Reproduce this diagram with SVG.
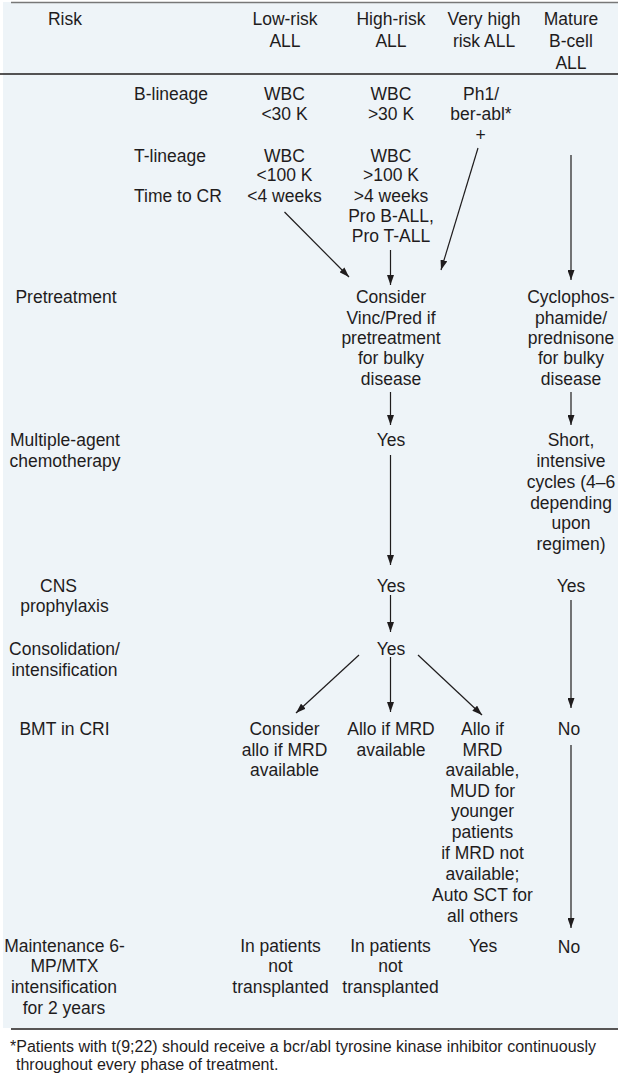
<svg xmlns="http://www.w3.org/2000/svg" width="620" height="1075" viewBox="0 0 620 1075">
<style>
text{font-family:"Liberation Sans",Arial,Helvetica,sans-serif;font-size:17.5px;fill:#1f1c1d}
.c{text-anchor:middle}
.s{text-anchor:start}
.f{font-size:16px;text-anchor:start}
.ln{stroke:#1f1c1d;stroke-width:1.2;fill:none}
</style>
<defs>
<marker id="ah" viewBox="0 0 10 7" refX="10" refY="3.5" markerWidth="10" markerHeight="7" markerUnits="userSpaceOnUse" orient="auto">
<path d="M0,0 L10,3.5 L0,7 Z" fill="#1f1c1d"/>
</marker>
</defs>
<rect x="0" y="0" width="620" height="1075" fill="#ffffff"/>
<rect x="3" y="2" width="615" height="1026" fill="#eef4f8"/>
<line x1="11" y1="2.5" x2="618" y2="2.5" stroke="#777777" stroke-width="1.6"/>
<line x1="0" y1="74" x2="618" y2="74" stroke="#1f1c1d" stroke-width="1.5"/>
<line x1="11" y1="1029" x2="618" y2="1029" stroke="#1f1c1d" stroke-width="1.5"/>

<g id="header">
<text class="c" x="65" y="24.5">Risk</text>
<text class="c" x="285" y="24.5">Low-risk</text>
<text class="c" x="285" y="46.5">ALL</text>
<text class="c" x="391" y="24.5">High-risk</text>
<text class="c" x="391" y="46.5">ALL</text>
<text class="c" x="484" y="24.5">Very high</text>
<text class="c" x="484" y="46.5">risk ALL</text>
<text class="c" x="571" y="24.5">Mature</text>
<text class="c" x="571" y="46.5">B-cell</text>
<text class="c" x="571" y="68.5">ALL</text>
</g>

<g id="row-labels">
<text class="s" x="134" y="99.5">B-lineage</text>
<text class="s" x="134" y="161.5">T-lineage</text>
<text class="s" x="134" y="201.5">Time to CR</text>
<text class="c" x="66" y="303">Pretreatment</text>
<text class="c" x="65" y="446">Multiple-agent</text>
<text class="c" x="65" y="467">chemotherapy</text>
<text class="c" x="58.5" y="591.5">CNS</text>
<text class="c" x="64.5" y="612">prophylaxis</text>
<text class="c" x="64.5" y="655">Consolidation/</text>
<text class="c" x="64.5" y="675.5">intensification</text>
<text class="c" x="64.5" y="735">BMT in CRI</text>
<text class="c" x="64.5" y="951.5">Maintenance 6-</text>
<text class="c" x="64.5" y="972">MP/MTX</text>
<text class="c" x="64" y="993">intensification</text>
<text class="c" x="64" y="1013.5">for 2 years</text>
</g>

<g id="low-risk-criteria">
<text class="c" x="284.5" y="99.5">WBC</text>
<text class="c" x="284.5" y="120">&lt;30 K</text>
<text class="c" x="284.5" y="161.5">WBC</text>
<text class="c" x="284.5" y="181">&lt;100 K</text>
<text class="c" x="284.5" y="201.5">&lt;4 weeks</text>
</g>
<g id="high-risk-criteria">
<text class="c" x="391" y="99.5">WBC</text>
<text class="c" x="391" y="120">&gt;30 K</text>
<text class="c" x="391" y="161.5">WBC</text>
<text class="c" x="391" y="181">&gt;100 K</text>
<text class="c" x="391" y="201.5">&gt;4 weeks</text>
<text class="c" x="391" y="222">Pro B-ALL,</text>
<text class="c" x="391" y="242">Pro T-ALL</text>
</g>
<g id="very-high-risk-criteria">
<text class="c" x="481" y="99.5">Ph1/</text>
<text class="c" x="481" y="120">ber-abl*</text>
<text class="c" x="480.5" y="141">+</text>
</g>

<g id="pretreatment-main">
<text class="c" x="391" y="303">Consider</text>
<text class="c" x="391" y="323.5">Vinc/Pred if</text>
<text class="c" x="391" y="344">pretreatment</text>
<text class="c" x="391" y="364">for bulky</text>
<text class="c" x="391" y="384.5">disease</text>
</g>
<g id="pretreatment-mature">
<text class="c" x="571" y="303">Cyclophos-</text>
<text class="c" x="571" y="323.5">phamide/</text>
<text class="c" x="571" y="344">prednisone</text>
<text class="c" x="571" y="364">for bulky</text>
<text class="c" x="571" y="384.5">disease</text>
</g>

<g id="chemo-main"><text class="c" x="391" y="446">Yes</text></g>
<g id="chemo-mature">
<text class="c" x="571" y="446">Short,</text>
<text class="c" x="571" y="467">intensive</text>
<text class="c" x="571" y="488">cycles (4–6</text>
<text class="c" x="571" y="508.5">depending</text>
<text class="c" x="571" y="529">upon</text>
<text class="c" x="571" y="550">regimen)</text>
</g>

<g id="cns-main"><text class="c" x="391" y="591.5">Yes</text></g>
<g id="cns-mature"><text class="c" x="571" y="591.5">Yes</text></g>
<g id="consolidation-main"><text class="c" x="391" y="655">Yes</text></g>

<g id="bmt-low">
<text class="c" x="284.5" y="735">Consider</text>
<text class="c" x="284.5" y="755.5">allo if MRD</text>
<text class="c" x="284.5" y="776">available</text>
</g>
<g id="bmt-high">
<text class="c" x="391" y="735">Allo if MRD</text>
<text class="c" x="391" y="755.5">available</text>
</g>
<g id="bmt-veryhigh">
<text class="c" x="482.5" y="735">Allo if</text>
<text class="c" x="482.5" y="755.5">MRD</text>
<text class="c" x="482.5" y="776">available,</text>
<text class="c" x="482.5" y="796.5">MUD for</text>
<text class="c" x="482.5" y="817">younger</text>
<text class="c" x="482.5" y="838">patients</text>
<text class="c" x="482.5" y="859">if MRD not</text>
<text class="c" x="482.5" y="880">available;</text>
<text class="c" x="482.5" y="901">Auto SCT for</text>
<text class="c" x="482.5" y="921.5">all others</text>
</g>
<g id="bmt-mature"><text class="c" x="569" y="735">No</text></g>

<g id="maint-low">
<text class="c" x="280.5" y="951.5">In patients</text>
<text class="c" x="280.5" y="972">not</text>
<text class="c" x="280.5" y="993">transplanted</text>
</g>
<g id="maint-high">
<text class="c" x="390.5" y="951.5">In patients</text>
<text class="c" x="390.5" y="972">not</text>
<text class="c" x="390.5" y="993">transplanted</text>
</g>
<g id="maint-veryhigh"><text class="c" x="483" y="951.5">Yes</text></g>
<g id="maint-mature"><text class="c" x="569" y="953">No</text></g>

<g id="connectors" class="ln">
<line x1="284.5" y1="212" x2="349" y2="277" marker-end="url(#ah)"/>
<line x1="390.5" y1="250" x2="390.5" y2="285" marker-end="url(#ah)"/>
<line x1="478" y1="148" x2="441" y2="270" marker-end="url(#ah)"/>
<line x1="571" y1="155" x2="571" y2="280" marker-end="url(#ah)"/>
<line x1="390.5" y1="392" x2="390.5" y2="425" marker-end="url(#ah)"/>
<line x1="571" y1="392" x2="571" y2="425" marker-end="url(#ah)"/>
<line x1="390.5" y1="455" x2="390.5" y2="565" marker-end="url(#ah)"/>
<line x1="390.5" y1="595" x2="390.5" y2="632" marker-end="url(#ah)"/>
<line x1="571" y1="600" x2="571" y2="708" marker-end="url(#ah)"/>
<line x1="359" y1="655" x2="296" y2="713" marker-end="url(#ah)"/>
<line x1="390.5" y1="657" x2="390.5" y2="712" marker-end="url(#ah)"/>
<line x1="418" y1="655" x2="482" y2="715" marker-end="url(#ah)"/>
<line x1="571" y1="745" x2="571" y2="928" marker-end="url(#ah)"/>
</g>

<g id="footnote">
<text class="f" x="10" y="1051.5">*Patients with t(9;22) should receive a bcr/abl tyrosine kinase inhibitor continuously</text>
<text class="f" x="16" y="1070">throughout every phase of treatment.</text>
</g>
</svg>
